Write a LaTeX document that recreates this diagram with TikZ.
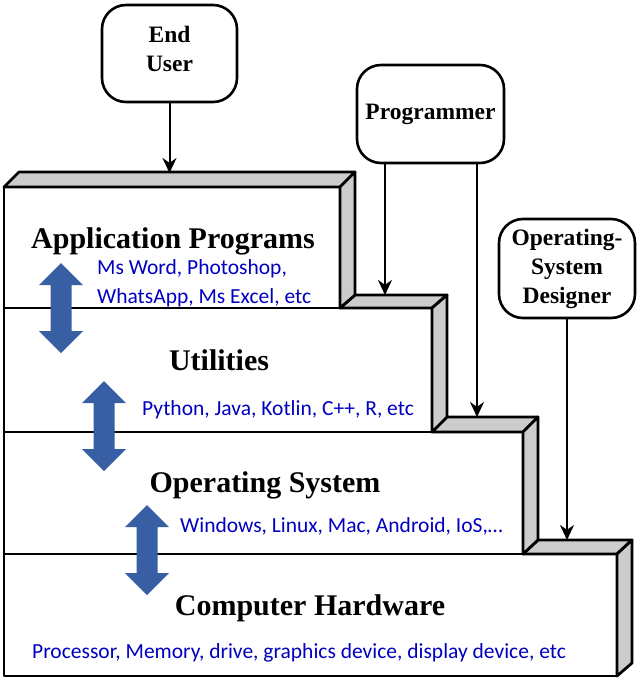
\documentclass[tikz,border=0pt]{standalone}
\usepackage{fontspec}
\setmainfont{Liberation Serif}
\newfontfamily\calib{Carlito}
\usetikzlibrary{arrows.meta}
\definecolor{txtblue}{RGB}{0,0,192}
\definecolor{arrblue}{RGB}{56,94,164}
\definecolor{bevelgray}{RGB}{204,204,204}
\begin{document}
\begin{tikzpicture}[x=1pt,y=-1pt,
  face/.style={draw=black,line width=2.8pt,fill=white,line join=round},
  bev/.style={draw=black,line width=2.8pt,fill=bevelgray,line join=round},
  layer/.style={font=\fontsize{30}{36}\selectfont\bfseries,inner sep=0pt,anchor=base},
  actor/.style={draw,line width=2.6pt,rounded corners=24pt,align=center,
    font=\fontsize{23.5}{29}\selectfont\bfseries,inner sep=0pt},
  info/.style={text=txtblue,font=\calib\fontsize{21.5}{29}\selectfont,
    anchor=base west,align=left,inner sep=0pt},
  conn/.style={line width=2pt,-{Stealth[length=15pt,width=14pt]}},
  dblarr/.pic={\fill[arrblue] (0,0) -- (22,22) -- (10.5,22) -- (10.5,68) -- (22,68)
     -- (0,90) -- (-22,68) -- (-10.5,68) -- (-10.5,22) -- (-22,22) -- cycle;}
]
\useasboundingbox (0,0) rectangle (637,680);
\fill[white] (0,0) rectangle (637,680);

% Computer Hardware
\draw[face] (4,554) rectangle (617,676);
\draw[bev] (523,554) -- (538,540) -- (632,540) -- (617,554) -- cycle;
\draw[bev] (617,554) -- (632,540) -- (632,663) -- (617,676) -- cycle;
% Operating System
\draw[face] (4,432) rectangle (523,554);
\draw[bev] (432,432) -- (447,417) -- (538,417) -- (523,432) -- cycle;
\draw[bev] (523,432) -- (538,417) -- (538,540) -- (523,554) -- cycle;
% Utilities
\draw[face] (4,308) rectangle (432,432);
\draw[bev] (340,308) -- (355,295) -- (447,295) -- (432,308) -- cycle;
\draw[bev] (432,308) -- (447,295) -- (447,417) -- (432,432) -- cycle;
% Application Programs
\draw[face] (4,187) rectangle (340,308);
\draw[bev] (4,187) -- (19,172) -- (355,172) -- (340,187) -- cycle;
\draw[bev] (340,187) -- (355,172) -- (355,295) -- (340,308) -- cycle;

% layer labels
\node[layer] (lapp) at (173,248) {Application Programs};
\node[layer] (lutil) at (219,370) {Utilities};
\node[layer] (los) at (265,492) {Operating System};
\node[layer] (lhw) at (310,615) {Computer Hardware};

% blue double arrows
\pic at (61,263) {dblarr};
\pic at (104,381) {dblarr};
\pic at (147,505) {dblarr};

% blue info texts
\node[info] (iapp) at (97,303) {Ms Word, Photoshop,\\WhatsApp, Ms Excel, etc};
\node[info] (iutil) at (142,415) {Python, Java, Kotlin, C++, R, etc};
\node[info] (ios) at (180,532) {Windows, Linux, Mac, Android, IoS,\dots};
\node[info] (ihw) at (32,658) {Processor, Memory, drive, graphics device, display device, etc};

% actors
\node[actor,minimum width=135pt,minimum height=97pt,text depth=9pt] (eu) at (169.5,53.5) {End\\User};
\node[actor,minimum width=147pt,minimum height=98pt] (pg) at (430.5,114) {Programmer};
\node[actor,minimum width=136pt,minimum height=99pt] (osd) at (567,268.5) {Operating-\\System\\Designer};

% targets
\coordinate (t1) at (169.5,173);
\coordinate (t2) at (385,295);
\coordinate (t3) at (477,417);
\coordinate (t4) at (567,540);

\draw[conn] (eu.south) -- (t1);
\draw[conn] (pg.south -| t2) -- (t2);
\draw[conn] (pg.south -| t3) -- (t3);
\draw[conn] (osd.south) -- (t4);
\end{tikzpicture}
\end{document}
